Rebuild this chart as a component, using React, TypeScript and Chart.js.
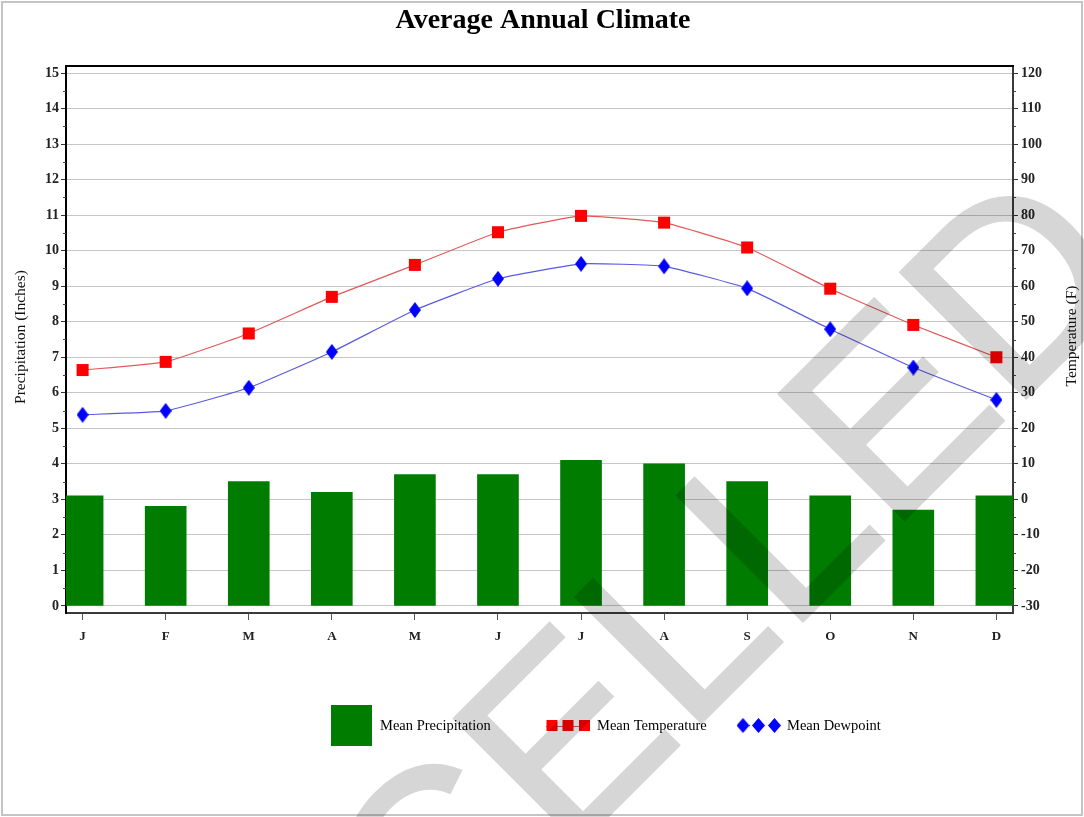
import React, { useEffect, useRef } from 'react';
import { Chart, registerables } from 'chart.js';

Chart.register(...registerables);

const months = ['J', 'F', 'M', 'A', 'M', 'J', 'J', 'A', 'S', 'O', 'N', 'D'];
const precipitation = [3.1, 2.8, 3.5, 3.2, 3.7, 3.7, 4.1, 4.0, 3.5, 3.1, 2.7, 3.1];
const meanTemperature = [36.4, 38.7, 46.7, 57.0, 66.0, 75.2, 79.8, 77.9, 70.9, 59.3, 49.1, 40.0];
const meanDewpoint = [23.8, 24.9, 31.4, 41.5, 53.3, 62.1, 66.3, 65.6, 59.4, 47.9, 37.1, 28.0];
const precipTicks = [0, 1, 2, 3, 4, 5, 6, 7, 8, 9, 10, 11, 12, 13, 14, 15];
const tempTicks = [-30, -20, -10, 0, 10, 20, 30, 40, 50, 60, 70, 80, 90, 100, 110, 120];

const W = 1084;
const H = 817;
const SERIF = '"Liberation Serif", "Times New Roman", serif';
const GREEN = '#007c00';
const RED = '#ff0000';
const BLUE = '#0000ff';

function makeDiamond(w: number, h: number, color: string) {
  const c = document.createElement('canvas');
  c.width = w;
  c.height = h;
  const g = c.getContext('2d')!;
  g.fillStyle = color;
  g.beginPath();
  g.moveTo(w / 2, 0);
  g.lineTo(w, h / 2);
  g.lineTo(w / 2, h);
  g.lineTo(0, h / 2);
  g.closePath();
  g.fill();
  return c;
}

function makeWatermark() {
  const c = document.createElement('canvas');
  c.width = W;
  c.height = H;
  const g = c.getContext('2d')!;
  g.fillStyle = '#d6d6d6';
  g.strokeStyle = '#d6d6d6';
  g.lineWidth = 3;
  g.lineJoin = 'miter';
  g.translate(48, 1376);
  g.rotate((-45 * Math.PI) / 180);
  g.font = '258px "Liberation Sans", Arial, sans-serif';
  g.textAlign = 'left';
  g.textBaseline = 'alphabetic';
  g.fillText('CANCELLED', 0, 0);
  g.strokeText('CANCELLED', 0, 0);
  return c;
}

const decorPlugin = {
  id: 'decor',
  beforeDraw(chart: any) {
    const ctx = chart.ctx;
    ctx.save();
    ctx.fillStyle = '#ffffff';
    ctx.fillRect(0, 0, W, H);
    ctx.strokeStyle = '#c4c4c4';
    ctx.lineWidth = 2;
    ctx.strokeRect(2, 2, W - 4, H - 4);
    ctx.restore();
  },
  afterDraw(chart: any) {
    const ctx = chart.ctx;
    const area = chart.chartArea;
    const yL = chart.scales.y;
    const yR = chart.scales.yR;
    ctx.save();

    // top frame line
    ctx.strokeStyle = '#000';
    ctx.lineWidth = 2;
    ctx.beginPath();
    ctx.moveTo(area.left - 1, area.top);
    ctx.lineTo(area.right + 1, area.top);
    ctx.stroke();

    // minor ticks
    ctx.strokeStyle = '#444';
    ctx.lineWidth = 1;
    for (let i = 0; i < precipTicks.length - 1; i++) {
      const v = (precipTicks[i] + precipTicks[i + 1]) / 2;
      const y = Math.round(yL.getPixelForValue(v)) + 0.5;
      ctx.beginPath();
      ctx.moveTo(area.left - 3, y);
      ctx.lineTo(area.left, y);
      ctx.stroke();
    }
    for (let i = 0; i < tempTicks.length - 1; i++) {
      const v = (tempTicks[i] + tempTicks[i + 1]) / 2;
      const y = Math.round(yR.getPixelForValue(v)) + 0.5;
      ctx.beginPath();
      ctx.moveTo(area.right, y);
      ctx.lineTo(area.right + 3, y);
      ctx.stroke();
    }

    // title
    ctx.fillStyle = '#000';
    ctx.font = 'bold 28px ' + SERIF;
    ctx.textAlign = 'center';
    ctx.textBaseline = 'middle';
    ctx.fillText('Average Annual Climate', 543, 21);

    // axis titles
    ctx.font = '15.5px ' + SERIF;
    ctx.fillStyle = '#111';
    ctx.save();
    ctx.translate(21, 337);
    ctx.rotate(-Math.PI / 2);
    ctx.fillText('Precipitation (Inches)', 0, 0);
    ctx.restore();
    ctx.save();
    ctx.translate(1072, 336);
    ctx.rotate(-Math.PI / 2);
    ctx.fillText('Temperature (F)', 0, 0);
    ctx.restore();

    // legend
    const ly = 726;
    ctx.fillStyle = GREEN;
    ctx.fillRect(331, 705, 41, 41);
    ctx.fillStyle = '#000';
    ctx.font = '14.5px ' + SERIF;
    ctx.textAlign = 'left';
    ctx.textBaseline = 'middle';
    ctx.fillText(chart.data.datasets[0].label, 380, ly);
    ctx.fillText(chart.data.datasets[1].label, 597, ly);
    ctx.fillText(chart.data.datasets[2].label, 787, ly);

    ctx.strokeStyle = '#e05050';
    ctx.lineWidth = 1;
    ctx.beginPath();
    ctx.moveTo(546, ly + 0.5);
    ctx.lineTo(590, ly + 0.5);
    ctx.stroke();
    ctx.fillStyle = RED;
    [552, 568, 584.5].forEach((cx) => ctx.fillRect(cx - 5.5, ly - 6, 11, 11));
    const dia = makeDiamond(13, 15, BLUE);
    [743, 758.5, 774.5].forEach((cx) => ctx.drawImage(dia, cx - 6.5, ly - 8));

    // watermark
    ctx.globalCompositeOperation = 'multiply';
    ctx.drawImage(makeWatermark(), 0, 0);
    ctx.restore();
  },
};

export default function App() {
  const ref = useRef<HTMLCanvasElement | null>(null);

  useEffect(() => {
    document.body.style.margin = '0';
    const canvas = ref.current!;
    const diamond = makeDiamond(12, 16, BLUE);

    const chart = new Chart(canvas, {
      type: 'bar',
      data: {
        datasets: [
          {
            type: 'bar',
            label: 'Mean Precipitation',
            data: precipitation.map((v, i) => ({ x: i, y: v })),
            backgroundColor: GREEN,
            borderWidth: 0,
            barThickness: 41,
            yAxisID: 'y',
            order: 3,
          } as any,
          {
            type: 'line',
            label: 'Mean Temperature',
            data: meanTemperature.map((v, i) => ({ x: i, y: v })),
            borderColor: '#e05a5a',
            borderWidth: 1.2,
            tension: 0.12,
            pointStyle: 'rect',
            pointRadius: 8.5,
            pointBackgroundColor: RED,
            pointBorderWidth: 0,
            yAxisID: 'yR',
            order: 2,
          } as any,
          {
            type: 'line',
            label: 'Mean Dewpoint',
            data: meanDewpoint.map((v, i) => ({ x: i, y: v })),
            borderColor: '#5a5ae0',
            borderWidth: 1.2,
            tension: 0.12,
            pointStyle: diamond,
            pointRadius: 8,
            pointBackgroundColor: BLUE,
            pointBorderWidth: 0,
            yAxisID: 'yR',
            order: 1,
          } as any,
        ],
      },
      options: {
        animation: false,
        responsive: false,
        devicePixelRatio: 1,
        layout: { padding: { left: 0, right: 0, top: 66, bottom: 164 } },
        plugins: {
          legend: { display: false },
          tooltip: { enabled: false },
          title: { display: false },
        },
        scales: {
          x: {
            type: 'linear',
            offset: false,
            min: -0.2,
            max: 11.2,
            afterBuildTicks: (axis: any) => {
              axis.ticks = months.map((_, i) => ({ value: i }));
            },
            afterFit: (s: any) => {
              s.height = 40;
            },
            ticks: {
              callback: (v: any) => months[v as number] ?? '',
              font: { family: SERIF, size: 13, weight: 'bold' },
              color: '#222',
              padding: 9,
              maxRotation: 0,
              autoSkip: false,
            },
            grid: {
              offset: false,
              drawOnChartArea: false,
              drawTicks: true,
              tickLength: 7,
              tickColor: '#555',
            },
            border: { display: true, color: '#3a3a3a', width: 2 },
          },
          y: {
            type: 'linear',
            position: 'left',
            min: -0.2,
            max: 15.2,
            afterBuildTicks: (axis: any) => {
              axis.ticks = precipTicks.map((v) => ({ value: v }));
            },
            afterFit: (s: any) => {
              s.width = 66;
            },
            ticks: {
              font: { family: SERIF, size: 14, weight: 'bold' },
              color: '#222',
              padding: 2,
              autoSkip: false,
            },
            grid: {
              color: '#c6c6c6',
              lineWidth: 1,
              drawTicks: true,
              tickLength: 5,
              tickColor: '#333',
            },
            border: { display: true, color: '#000', width: 2 },
          },
          yR: {
            type: 'linear',
            position: 'right',
            min: -32,
            max: 122,
            afterBuildTicks: (axis: any) => {
              axis.ticks = tempTicks.map((v) => ({ value: v }));
            },
            afterFit: (s: any) => {
              s.width = 71;
            },
            ticks: {
              font: { family: SERIF, size: 14, weight: 'bold' },
              color: '#222',
              padding: 3,
              autoSkip: false,
            },
            grid: {
              drawOnChartArea: false,
              drawTicks: true,
              tickLength: 5,
              tickColor: '#333',
            },
            border: { display: true, color: '#3a3a3a', width: 2 },
          },
        },
      } as any,
      plugins: [decorPlugin],
    });

    return () => chart.destroy();
  }, []);

  return (
    <div style={{ width: W, height: H, position: 'relative' }}>
      <canvas ref={ref} width={W} height={H} style={{ display: 'block', width: W, height: H }} />
    </div>
  );
}
